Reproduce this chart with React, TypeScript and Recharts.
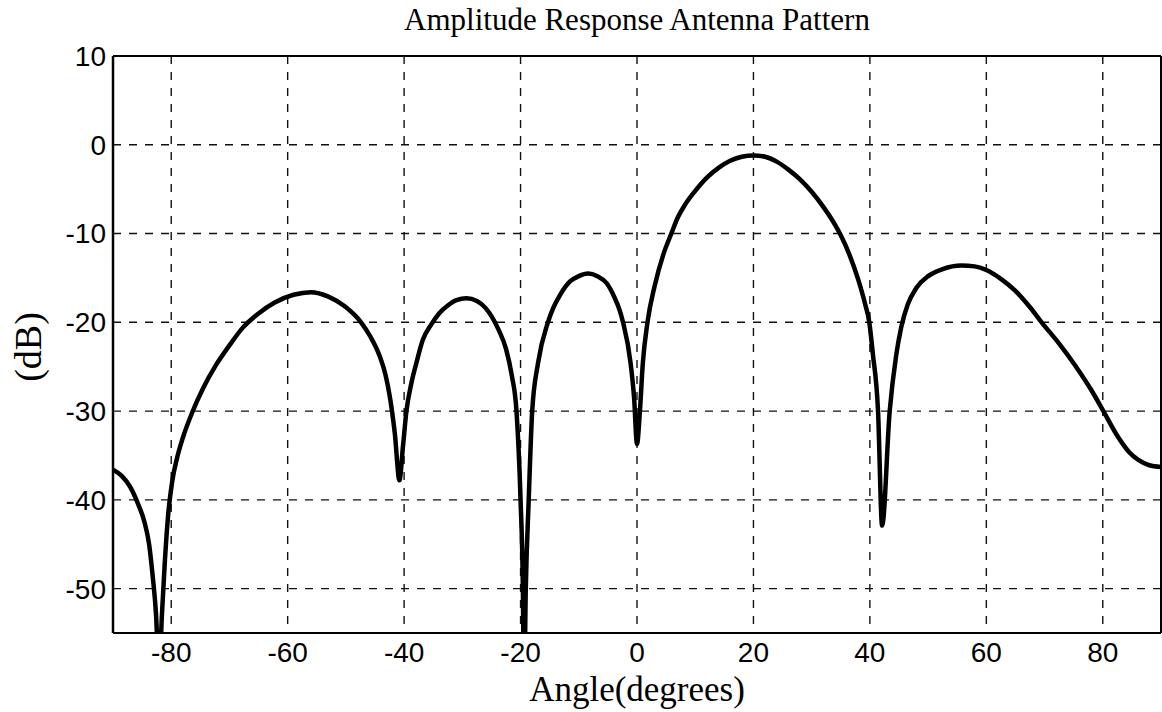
import React from 'react';
import { LineChart, Line, XAxis, YAxis, CartesianGrid, ReferenceLine } from 'recharts';

const angles = [
  -90, -88.5, -87, -85.8, -84.6, -83.8, -83.2, -82.6, -82.1, -81.6, -81.1, -80.5, -79.8, -79, -78, -76.3, -74.5, -72.3, -70, -67.7,
  -65, -62.3, -59, -56, -53, -50.2, -47.4, -45.8, -44.2, -43.2, -42.5, -41.6, -40.8, -40.2, -39.6, -38.8, -37.9, -36.8, -35.3, -34,
  -32.5, -31, -29.3, -27.5, -26, -25, -23.8, -22.5, -21.5, -20.7, -20.0, -19.6, -19.4, -19.1, -18.6, -18.0, -17.0, -15.3, -14.4, -13.2,
  -11.5, -10, -8.4, -6.8, -5.2, -4, -3, -2.4, -1.1, -0.5, 0.0, 0.5, 1.0, 1.8, 3.0, 4.5, 5.9, 7, 8.2, 10,
  12, 14, 16, 18, 20, 22, 24, 26, 28, 30, 32, 34, 35, 36.5, 38, 39.2, 39.9, 40.5, 41.4, 42.1,
  43.4, 44.5, 45.4, 46.5, 48, 50, 52.5, 55.7, 58, 60, 62.5, 64.9, 67.5, 69.5, 72.5, 75.2, 78, 80.1, 82.6, 84.5,
  86.1, 88, 90,
];

const responseDb = [
  -36.6, -37.3, -38.6, -40.3, -42.5, -45, -48.5, -53, -60, -53, -47, -41.5, -37.8, -35.3, -33, -30, -27.4, -24.8, -22.6, -20.6,
  -19.0, -17.8, -16.9, -16.6, -17.1, -18.2, -20.0, -21.6, -23.8, -25.9, -28.2, -32.5, -37.8, -34, -30, -27, -24.6, -22, -20.2, -19,
  -18.1, -17.5, -17.3, -17.6, -18.4, -19.3, -20.8, -23.0, -26, -30, -40, -50, -62, -50, -40, -30, -24.6, -20, -18.4, -16.9,
  -15.4, -14.8, -14.5, -14.8, -15.6, -17.0, -18.6, -20, -24.6, -28.5, -33.7, -30, -24.6, -20, -16, -12.4, -10, -8.2, -6.8, -5.2,
  -3.7, -2.6, -1.8, -1.35, -1.2, -1.35, -1.9, -2.8, -3.9, -5.3, -7.0, -9.0, -10.2, -12.4, -15.2, -18, -20, -23.5, -30, -42.9,
  -30, -23.8, -20.5, -18.0, -16.1, -14.8, -14.0, -13.6, -13.7, -14.1, -15.1, -16.4, -18.3, -20, -22.4, -24.8, -27.6, -30, -32.9, -34.6,
  -35.5, -36.1, -36.3,
];

const xTicks = [-80, -60, -40, -20, 0, 20, 40, 60, 80];
const yTicks = [10, 0, -10, -20, -30, -40, -50];

const titleText = 'Amplitude Response Antenna Pattern';
const xLabelText = 'Angle(degrees)';
const yLabelText = '(dB)';

const data = angles.map((a, i) => ({ angle: a, db: responseDb[i] }));

const W = 1162;
const H = 712;
const SERIF = '"Liberation Serif", "Times New Roman", serif';

export default function App() {
  const tickStyle = { fontFamily: '"Liberation Sans", Arial, sans-serif', fontSize: 28, fill: '#000' };
  return (
    <div style={{ position: 'absolute', left: 0, top: 0, width: W, height: H, background: '#fff' }}>
      <LineChart width={W} height={H} data={data} margin={{ top: 56, right: 1, bottom: 0, left: 0 }}>
        <CartesianGrid stroke="#111" strokeWidth={1.4} strokeDasharray="8 8" />
        <XAxis
          dataKey="angle"
          type="number"
          domain={[-90, 90]}
          ticks={xTicks}
          height={79}
          tickSize={0}
          tickMargin={9}
          tickLine={false}
          axisLine={{ stroke: '#000', strokeWidth: 2 }}
          tick={tickStyle}
          allowDataOverflow
        />
        <YAxis
          type="number"
          domain={[-55, 10]}
          ticks={yTicks}
          width={113}
          tickSize={0}
          tickMargin={7}
          tickLine={false}
          axisLine={{ stroke: '#000', strokeWidth: 2.5 }}
          tick={tickStyle}
          allowDataOverflow
        />
        <ReferenceLine y={10} stroke="#000" strokeWidth={2} />
        <ReferenceLine x={90} stroke="#000" strokeWidth={2} />
        <Line
          dataKey="db"
          type="monotone"
          stroke="#000"
          strokeWidth={4.5}
          dot={false}
          isAnimationActive={false}
          strokeLinejoin="round"
        />
      </LineChart>
      <svg width={W} height={H} style={{ position: 'absolute', left: 0, top: 0, pointerEvents: 'none' }}>
        <text x={637} y={30} textAnchor="middle" fontFamily={SERIF} fontSize={31} fill="#000">
          {titleText}
        </text>
        <text x={637} y={701} textAnchor="middle" fontFamily={SERIF} fontSize={35} fill="#000">
          {xLabelText}
        </text>
        <text x={41} y={347} textAnchor="middle" transform="rotate(-90 41 347)" fontFamily={SERIF} fontSize={38} fill="#000">
          {yLabelText}
        </text>
      </svg>
    </div>
  );
}
